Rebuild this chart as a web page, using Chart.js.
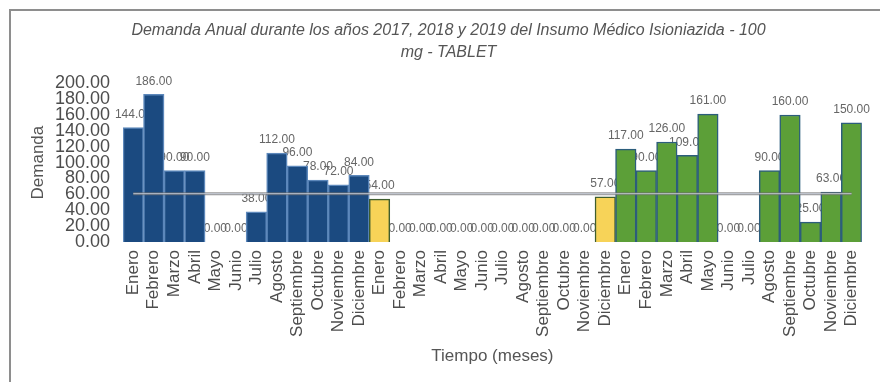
<!DOCTYPE html>
<html>
<head>
<meta charset="utf-8">
<script src="https://cdn.jsdelivr.net/npm/chart.js@4.4.1/dist/chart.umd.min.js"></script>
<style>
  html, body { margin: 0; padding: 0; background: #fff; }
  #wrap { width: 880px; height: 382px; }
</style>
</head>
<body>
<div id="wrap"><canvas id="demanda_plot" width="880" height="382"></canvas></div>
<script>
const meses = ["Enero", "Febrero", "Marzo", "Abril", "Mayo", "Junio", "Julio",
  "Agosto", "Septiembre", "Octubre", "Noviembre", "Diciembre"];
const demanda2017 = [144, 186, 90, 90, 0, 0, 38, 112, 96, 78, 72, 84];
const demanda2018 = [54, 0, 0, 0, 0, 0, 0, 0, 0, 0, 0, 57];
const demanda2019 = [117, 90, 126, 109, 161, 0, 0, 90, 160, 25, 63, 150];
const promedio = 60.89;
const yTicks = [0, 20, 40, 60, 80, 100, 120, 140, 160, 180, 200];

const etiquetas = [...meses, ...meses, ...meses];
const valores = [...demanda2017, ...demanda2018, ...demanda2019];

const fondo = [], borde = [];
demanda2017.forEach(() => { fondo.push("#1b4a80"); borde.push("#5d88bb"); });
demanda2018.forEach(() => { fondo.push("#f7d358"); borde.push("#3f5e2e"); });
demanda2019.forEach(() => { fondo.push("#5c9f38"); borde.push("#2c5d7c"); });

const fuente = "'Liberation Sans', Arial, sans-serif";

// marco gris de la figura
const marco = {
  id: "marco",
  beforeDraw(chart) {
    const ctx = chart.ctx;
    ctx.save();
    ctx.strokeStyle = "#8e8e8e";
    ctx.lineWidth = 2;
    ctx.beginPath();
    ctx.moveTo(9, 10); ctx.lineTo(880, 10);
    ctx.moveTo(10, 10); ctx.lineTo(10, 382);
    ctx.stroke();
    ctx.restore();
  }
};

// valores encima de las barras (dibujados antes que las barras)
const etiquetasValor = {
  id: "etiquetasValor",
  beforeDatasetsDraw(chart) {
    const ctx = chart.ctx;
    const meta = chart.getDatasetMeta(0);
    ctx.save();
    ctx.font = "12px " + fuente;
    ctx.fillStyle = "#666";
    ctx.textAlign = "center";
    ctx.textBaseline = "middle";
    meta.data.forEach((bar, i) => {
      ctx.fillText(valores[i].toFixed(2), bar.x, bar.y - 13);
    });
    ctx.restore();
  }
};

// linea del promedio
const lineaPromedio = {
  id: "lineaPromedio",
  afterDatasetsDraw(chart) {
    const ctx = chart.ctx;
    const x = chart.scales.x, y = chart.scales.y;
    const yp = y.getPixelForValue(promedio);
    const x0 = x.getPixelForValue(0), x1 = x.getPixelForValue(valores.length - 1);
    ctx.save();
    ctx.lineCap = "butt";
    ctx.strokeStyle = "rgba(110,110,110,0.7)";
    ctx.lineWidth = 3;
    ctx.beginPath(); ctx.moveTo(x0, yp); ctx.lineTo(x1, yp); ctx.stroke();
    ctx.strokeStyle = "rgba(205,212,225,0.7)";
    ctx.lineWidth = 1.3;
    ctx.beginPath(); ctx.moveTo(x0, yp); ctx.lineTo(x1, yp); ctx.stroke();
    ctx.restore();
  }
};

new Chart(document.getElementById("demanda_plot"), {
  type: "bar",
  data: {
    labels: etiquetas,
    datasets: [{
      data: valores,
      backgroundColor: fondo,
      borderColor: borde,
      borderWidth: 1.5,
      barPercentage: 1,
      categoryPercentage: 1
    }]
  },
  plugins: [marco, etiquetasValor, lineaPromedio],
  options: {
    responsive: false,
    animation: false,
    layout: { padding: { left: 20, right: 3, top: 0, bottom: 0 } },
    plugins: {
      legend: { display: false },
      tooltip: { enabled: false },
      title: {
        display: true,
        text: ["Demanda Anual durante los años 2017, 2018 y 2019 del Insumo Médico Isioniazida - 100",
               "mg - TABLET"],
        color: "#555",
        font: { family: fuente, size: 16, style: "italic", weight: "normal", lineHeight: 1.35 },
        padding: { top: 20, bottom: 20 }
      }
    },
    scales: {
      x: {
        offset: true,
        grid: { display: false, drawTicks: false },
        border: { display: false },
        ticks: {
          autoSkip: false, maxRotation: 90, minRotation: 90, padding: 8,
          color: "#4d4d4d", font: { family: fuente, size: 17 }
        },
        title: {
          display: true, text: "Tiempo (meses)", color: "#555",
          font: { family: fuente, size: 17 }, padding: { top: 0, bottom: 15 }
        },
        afterFit(scale) { scale.height = 140; }
      },
      y: {
        min: 0, max: 200,
        grid: { display: false, drawTicks: false },
        border: { display: false },
        afterBuildTicks(scale) { scale.ticks = yTicks.map(v => ({ value: v })); },
        ticks: {
          autoSkip: false, padding: 13, color: "#4d4d4d",
          font: { family: fuente, size: 18 },
          callback: v => Number(v).toFixed(2)
        },
        title: {
          display: true, text: "Demanda", color: "#555",
          font: { family: fuente, size: 17 }, padding: { top: 8, bottom: 0 }
        },
        afterFit(scale) { scale.width = 103; }
      }
    }
  }
});
</script>
</body>
</html>
